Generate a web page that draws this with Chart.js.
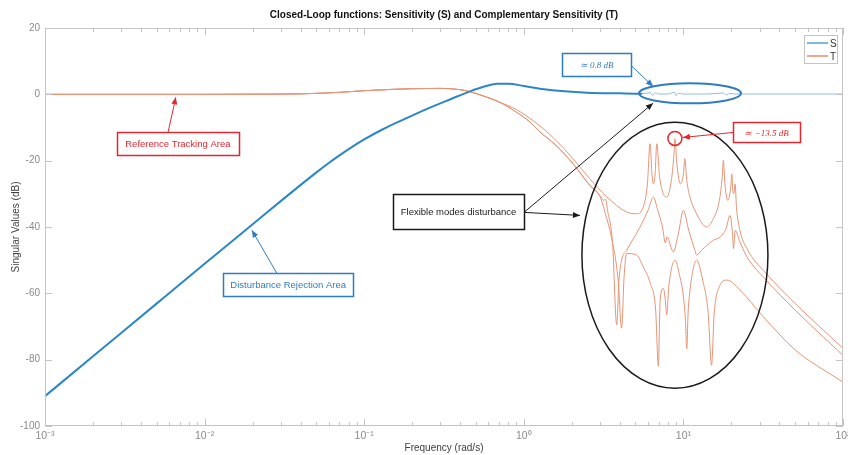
<!DOCTYPE html>
<html>
<head>
<meta charset="utf-8">
<script src="https://cdn.jsdelivr.net/npm/chart.js@4.4.1/dist/chart.umd.min.js"></script>
<style>
body { margin: 0; background: #fff; }
</style>
</head>
<body>
<canvas id="myChart" width="848" height="455"></canvas>
<script>
// values: frequency in rad/s, singular values in dB
var sFreq = [0.001, 0.002, 0.005, 0.01, 0.02, 0.03, 0.04, 0.05, 0.06, 0.07, 0.085, 0.1, 0.13, 0.18, 0.25, 0.35, 0.46, 0.58, 0.68, 0.8, 1.0, 1.3, 1.8, 2.5, 4, 5.5,
    6.2, 6.4, 6.7, 7.0, 8.0, 8.8, 9.0, 9.3, 10, 14, 17.8, 18.5, 19.5, 21, 30, 100];
var sGain = [-91, -79, -63.1, -51.1, -39.2, -32.2, -27.3, -23.6, -20.7, -18.4, -15.7, -13.6, -10.6, -7.4, -4.3, -1.4, 0.9, 2.5, 3.2, 3.2, 2.5, 1.6, 0.9, 0.5, 0.3, 0.2,
    0.5, -0.3, 0.5, 0.1, 0.1, 0.6, -0.4, 0.3, 0.1, 0.1, 0.4, -0.2, 0.3, 0.1, 0.1, 0.1];

// low frequency part shared by the three T singular values
var tLowFreq = [0.001, 0.01, 0.02, 0.04, 0.07, 0.1, 0.15, 0.2, 0.3, 0.4, 0.46, 0.55, 0.7];
var tLowGain = [0, 0, 0.05, 0.15, 0.6, 1.1, 1.5, 1.7, 1.8, 1.4, 0.8, -0.4, -2.3];

var t1Freq = [0.9, 1.09, 1.26, 1.6, 2.04, 2.6, 3.31, 4.41, 5.1, 5.6, 5.95, 6.18, 6.35, 6.49, 6.65, 6.81, 7.1, 7.86, 8.4, 8.7, 8.86, 9.1, 9.6, 10.0, 10.2, 10.5, 11.0,
    12.1, 14.0, 15.4, 16.8, 17.5, 17.8, 18.2, 19.0, 19.8, 20.1, 20.4, 20.7, 21.1, 21.5, 22.6, 25, 33, 50, 100];
var t1Gain = [-4.6, -7.2, -9.5, -14, -19.5, -25.5, -30.9, -35.5, -36, -34, -27, -14.9, -24, -27, -24, -14.9, -25, -31, -26, -19, -13.4, -21, -27, -24, -19.4, -26, -31,
    -36, -40, -37.5, -32, -25, -19.9, -27, -32, -28, -24, -29, -30, -27, -34, -41, -46.5, -54, -63, -76.6];

var t2Freq = [0.9, 1.09, 1.26, 1.6, 2.04, 2.6, 3.0, 3.16, 3.25, 3.35, 3.6, 3.82, 3.95, 4.1, 4.41, 5.35, 6.0, 6.49, 6.9, 7.4, 7.7, 7.9, 8.65, 9.3, 10.0, 10.8, 11.8,
    12.1, 13.0, 15.4, 17, 18.5, 19.6, 20.3, 20.6, 21.1, 22.6, 25, 33, 50, 100];
var t2Gain = [-5.4, -8.3, -11.3, -15.5, -21, -27.5, -30.5, -32, -31.6, -35, -45, -69.5, -56, -50, -47, -40, -35, -31, -35, -40, -44.8, -43, -47.5, -42, -35, -41, -47,
    -48.5, -47, -44, -43, -40.5, -36.5, -42, -46.5, -41, -44.5, -49, -56, -65, -78.7];

var t3Freq = [0.9, 1.09, 1.26, 1.6, 2.04, 2.6, 3.0, 3.31, 3.5, 3.9, 4.1, 4.25, 4.41, 5.1, 5.6, 6.2, 6.7, 6.97, 7.15, 7.49, 7.7, 7.86, 8.1, 8.86, 9.4, 10.0, 10.3,
    10.5, 10.7, 11.0, 12.1, 13.2, 14.3, 15.0, 15.6, 16.8, 18.7, 22.6, 31.6, 50, 100];
var t3Gain = [-5.4, -8.3, -11.3, -15.5, -21, -27.5, -30.8, -37.5, -42, -56, -70.5, -55, -48, -48.5, -52, -57, -65, -82, -62, -58.5, -62, -66.5, -58, -50, -54, -61, -68,
    -76.7, -66, -59, -50, -56, -66, -81.7, -66, -58, -56, -59, -67, -77, -86.8];

var xTicks = [0.001, 0.01, 0.1, 1, 10, 100];
var xMinor = [2, 3, 4, 5, 6, 7, 8, 9];
var yTicks = [-100, -80, -60, -40, -20, 0, 20];

var blue = '#2b86c8';
var lightBlue = '#8fbfe3';
var orange = '#e59475';
var red = '#e3272f';
var annBlue = '#2e7dc2';
var black = '#1a1a1a';

function pts(f, g) {
    return f.map(function (v, i) { return {x: v, y: g[i]}; });
}

var t1 = pts(tLowFreq.concat(t1Freq), tLowGain.concat(t1Gain));
var t2 = pts(tLowFreq.concat(t2Freq), tLowGain.concat(t2Gain));
var t3 = pts(tLowFreq.concat(t3Freq), tLowGain.concat(t3Gain));

// annotations, anchored in data units (freq, dB); sizes in pixels
var boxes = [
    {text: 'Reference Tracking Area', at: [0.0068, -14.9], w: 122, h: 23, color: red, font: '9.5px "Liberation Sans"'},
    {text: 'Disturbance Rejection Area', at: [0.0334, -57.4], w: 130, h: 23, color: annBlue, font: '9.5px "Liberation Sans"'},
    {text: 'Flexible modes disturbance', at: [0.39, -35.4], w: 131, h: 35, color: black, font: '9.5px "Liberation Sans"'},
    {text: '\u2243 0.8 dB', at: [2.855, 8.9], w: 69, h: 23, color: annBlue, font: 'italic 9px "Liberation Serif"'},
    {text: '\u2243 \u221213.5 dB', at: [33.2, -11.5], w: 67, h: 20, color: red, font: 'italic 9px "Liberation Serif"'}
];
var arrows = [
    {from: [0.0059, -11.5], to: [0.0066, -0.9], color: red},
    {from: [0.0284, -54.0], to: [0.0198, -41.0], color: annBlue},
    {from: [1.003, -35.6], to: [2.25, -36.5], color: black},
    {from: [1.003, -35.6], to: [6.45, -2.7], color: black},
    {from: [4.7, 8.7], to: [6.45, 2.4], color: annBlue},
    {from: [20.5, -11.5], to: [9.93, -13.0], color: red}
];
var ellipses = [
    {at: [8.85, -48.5], rx: 93, ry: 133, color: black, width: 1.5},
    {at: [11.0, 0.3], rx: 51, ry: 10, color: annBlue, width: 2},
    {at: [8.85, -13.3], rx: 7, ry: 7, color: red, width: 1.5}
];

var sup = {'-': '\u207B', '0': '\u2070', '1': '\u00B9', '2': '\u00B2', '3': '\u00B3'};
function expLabel(v) {
    var e = String(Math.round(Math.log10(v)));
    return '10' + e.split('').map(function (c) { return sup[c]; }).join('');
}

function toPx(chart, p) {
    return [chart.scales.x.getPixelForValue(p[0]), chart.scales.y.getPixelForValue(p[1])];
}

function arrowHead(ctx, x0, y0, x1, y1, color) {
    var a = Math.atan2(y1 - y0, x1 - x0);
    var len = 7, half = 3;
    ctx.fillStyle = color;
    ctx.beginPath();
    ctx.moveTo(x1, y1);
    ctx.lineTo(x1 - len * Math.cos(a) + half * Math.sin(a), y1 - len * Math.sin(a) - half * Math.cos(a));
    ctx.lineTo(x1 - len * Math.cos(a) - half * Math.sin(a), y1 - len * Math.sin(a) + half * Math.cos(a));
    ctx.closePath();
    ctx.fill();
}

var matlabAxes = {
    id: 'matlabAxes',
    afterDraw: function (chart) {
        var ctx = chart.ctx, a = chart.chartArea;
        var xs = chart.scales.x, ys = chart.scales.y;
        ctx.save();
        ctx.strokeStyle = '#c4c4c4';
        ctx.lineWidth = 1;
        ctx.strokeRect(a.left + 0.5, a.top + 0.5, a.right - a.left - 1, a.bottom - a.top - 1);
        ctx.beginPath();
        yTicks.forEach(function (v) {
            var y = Math.round(ys.getPixelForValue(v)) + 0.5;
            ctx.moveTo(a.left, y); ctx.lineTo(a.left + 7, y);
            ctx.moveTo(a.right, y); ctx.lineTo(a.right - 7, y);
        });
        xTicks.forEach(function (d, k) {
            var x = Math.round(xs.getPixelForValue(d)) + 0.5;
            ctx.moveTo(x, a.bottom); ctx.lineTo(x, a.bottom - 7);
            ctx.moveTo(x, a.top); ctx.lineTo(x, a.top + 7);
            if (k < xTicks.length - 1) {
                xMinor.forEach(function (m) {
                    var xm = Math.round(xs.getPixelForValue(d * m)) + 0.5;
                    ctx.moveTo(xm, a.bottom); ctx.lineTo(xm, a.bottom - 4);
                    ctx.moveTo(xm, a.top); ctx.lineTo(xm, a.top + 4);
                });
            }
        });
        ctx.stroke();

        // annotations
        ellipses.forEach(function (e) {
            var p = toPx(chart, e.at);
            ctx.strokeStyle = e.color;
            ctx.lineWidth = e.width;
            ctx.beginPath();
            ctx.ellipse(p[0], p[1], e.rx, e.ry, 0, 0, Math.PI * 2);
            ctx.stroke();
        });
        arrows.forEach(function (r) {
            var p0 = toPx(chart, r.from), p1 = toPx(chart, r.to);
            ctx.strokeStyle = r.color;
            ctx.lineWidth = 1;
            ctx.beginPath();
            ctx.moveTo(p0[0], p0[1]);
            ctx.lineTo(p1[0], p1[1]);
            ctx.stroke();
            arrowHead(ctx, p0[0], p0[1], p1[0], p1[1], r.color);
        });
        boxes.forEach(function (b) {
            var p = toPx(chart, b.at);
            var x = Math.round(p[0] - b.w / 2) + 0.5, y = Math.round(p[1] - b.h / 2) + 0.5;
            ctx.fillStyle = '#fff';
            ctx.fillRect(x, y, b.w, b.h);
            ctx.strokeStyle = b.color;
            ctx.lineWidth = 1.5;
            ctx.strokeRect(x, y, b.w, b.h);
            ctx.fillStyle = b.color;
            ctx.font = b.font;
            ctx.textAlign = 'center';
            ctx.textBaseline = 'middle';
            ctx.fillText(b.text, p[0], p[1] + 1);
        });

        // legend box
        var lx = a.right - 39, ly = a.top + 7;
        ctx.fillStyle = '#fff';
        ctx.fillRect(lx, ly, 33, 28);
        ctx.strokeStyle = '#c4c4c4';
        ctx.lineWidth = 1;
        ctx.strokeRect(lx + 0.5, ly + 0.5, 33, 28);
        [['S', '#0072bd', 8], ['T', '#d95319', 21]].forEach(function (it) {
            ctx.strokeStyle = it[1];
            ctx.beginPath();
            ctx.moveTo(lx + 3, ly + it[2]);
            ctx.lineTo(lx + 24, ly + it[2]);
            ctx.stroke();
            ctx.fillStyle = '#333';
            ctx.font = '10px "Liberation Sans"';
            ctx.textAlign = 'left';
            ctx.textBaseline = 'middle';
            ctx.fillText(it[0], lx + 26, ly + it[2] + 1);
        });

        // title centred over the axes
        ctx.fillStyle = '#111';
        ctx.font = 'bold 10px "Liberation Sans"';
        ctx.textAlign = 'center';
        ctx.textBaseline = 'middle';
        ctx.fillText('Closed-Loop functions: Sensitivity (S) and Complementary Sensitivity (T)', (a.left + a.right) / 2, 15);
        ctx.restore();
    }
};

Chart.defaults.font.family = '"Liberation Sans", Arial, sans-serif';

var ctx = document.getElementById('myChart').getContext('2d');
var myChart = new Chart(ctx, {
    type: 'line',
    data: {
        datasets: [{
            label: 'S',
            data: pts(sFreq, sGain),
            borderColor: blue,
            borderWidth: 2,
            cubicInterpolationMode: 'monotone',
            segment: {
                borderWidth: function (c) { return c.p0.parsed.x < 5.5 ? 2 : 1; },
                borderColor: function (c) { return c.p0.parsed.x < 5.5 ? blue : lightBlue; }
            },
            order: 0
        }, {
            label: 'T',
            data: t1,
            borderColor: orange,
            borderWidth: 1,
            cubicInterpolationMode: 'monotone',
            order: 1
        }, {
            label: 'T2',
            data: t2,
            borderColor: orange,
            borderWidth: 1,
            cubicInterpolationMode: 'monotone',
            order: 1
        }, {
            label: 'T3',
            data: t3,
            borderColor: orange,
            borderWidth: 1,
            cubicInterpolationMode: 'monotone',
            order: 1
        }]
    },
    options: {
        responsive: false,
        animation: false,
        layout: {
            padding: {top: 28, right: 5, left: 0, bottom: 0}
        },
        elements: {point: {radius: 0}},
        plugins: {
            legend: {display: false},
            tooltip: {enabled: false}
        },
        scales: {
            x: {
                type: 'logarithmic',
                min: 0.001,
                max: 100,
                grid: {display: false, drawTicks: false},
                border: {display: false},
                afterBuildTicks: function (scale) {
                    scale.ticks = xTicks.map(function (v) { return {value: v}; });
                },
                afterFit: function (scale) {
                    scale.height = 29;
                    scale.paddingLeft = 0;
                    scale.paddingRight = 0;
                },
                ticks: {
                    autoSkip: false,
                    maxRotation: 0,
                    color: '#8a8a8a',
                    font: {size: 10.5},
                    padding: 4,
                    callback: function (v) { return expLabel(v); }
                },
                title: {
                    display: true,
                    text: 'Frequency (rad/s)',
                    color: '#404040',
                    font: {size: 10},
                    padding: {top: 0, bottom: 1}
                }
            },
            y: {
                min: -100,
                max: 20,
                grid: {display: false, drawTicks: false},
                border: {display: false},
                afterFit: function (scale) {
                    scale.width = 45;
                    scale.paddingTop = 0;
                    scale.paddingBottom = 0;
                },
                ticks: {
                    stepSize: 20,
                    color: '#8a8a8a',
                    font: {size: 10},
                    padding: 5
                },
                title: {
                    display: true,
                    text: 'Singular Values (dB)',
                    color: '#404040',
                    font: {size: 10},
                    padding: {top: 10, bottom: 0}
                }
            }
        }
    },
    plugins: [matlabAxes]
});
</script>
</body>
</html>
